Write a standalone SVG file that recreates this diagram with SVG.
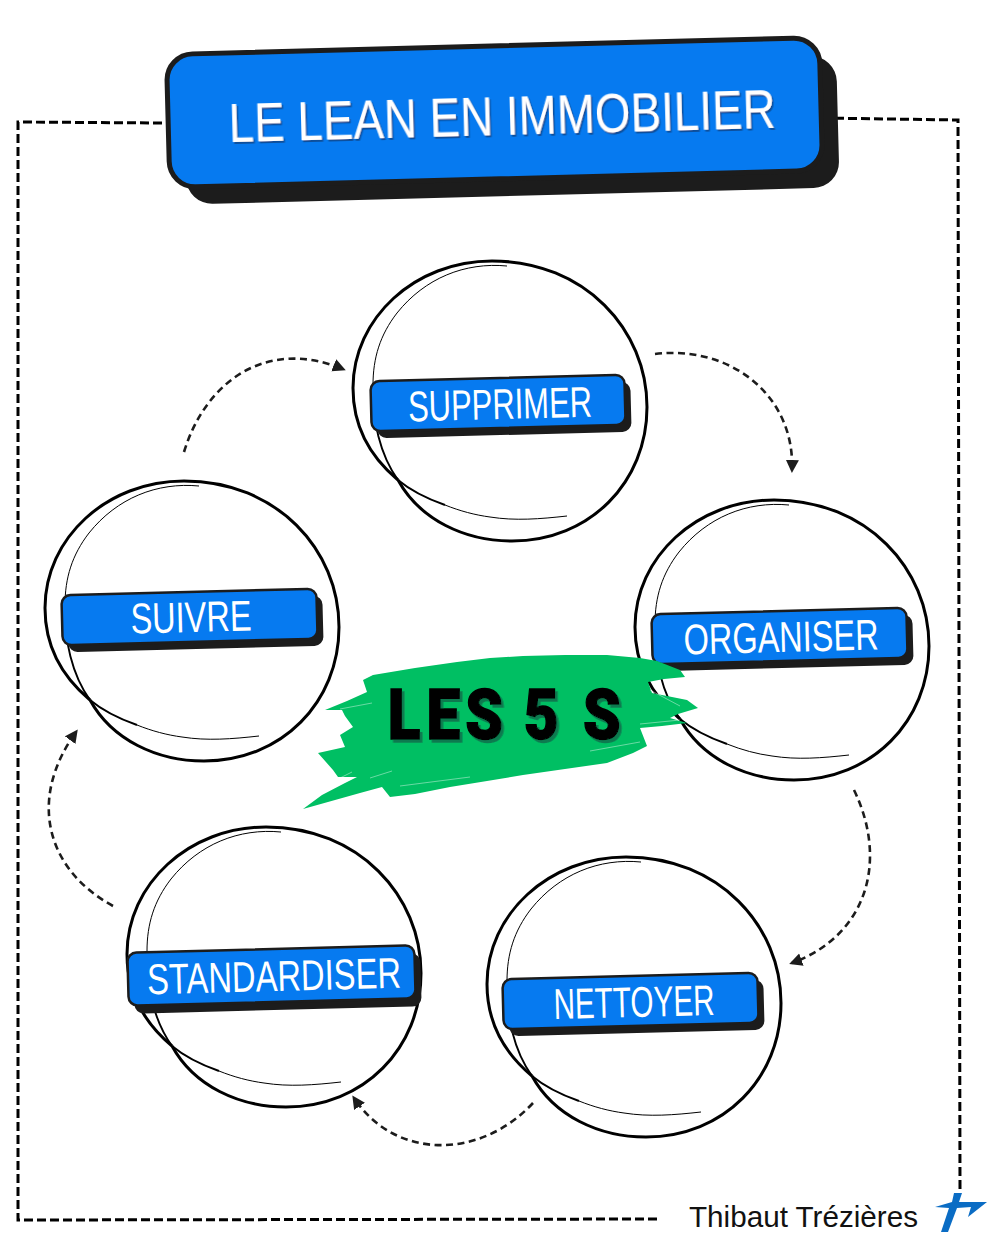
<svg xmlns="http://www.w3.org/2000/svg" xmlns:xlink="http://www.w3.org/1999/xlink" width="1000" height="1240" viewBox="0 0 1000 1240">
<style>
.ring{fill:none;stroke:#000;stroke-width:3}
.mid{fill:none;stroke:#000;stroke-width:1.9}
.thin{fill:none;stroke:#000;stroke-width:1}
.dash{fill:none;stroke:#000;stroke-width:3;stroke-dasharray:9 4}
.arc{fill:none;stroke:#1c1c1c;stroke-width:2.6;stroke-dasharray:7 4.5;marker-end:url(#ah)}
.shadow{fill:#1c1c1c}
.plate{fill:#067af0;stroke:#1c1c1c;stroke-width:2.5}
.hand{font-family:"Liberation Sans Narrow","Liberation Sans",sans-serif;fill:#fff;text-anchor:middle}
.streak{fill:none;stroke:#fff;stroke-width:.6;stroke-opacity:.7}
</style>
<defs>
<filter id="ts1" x="-5%" y="-20%" width="110%" height="140%"><feDropShadow dx="1.5" dy="2" stdDeviation="0" flood-color="#0b4f9c"/></filter>
<filter id="ts2" x="-5%" y="-20%" width="110%" height="140%"><feDropShadow dx="3" dy="3" stdDeviation="0" flood-color="#0a7a50"/></filter>
<marker id="ah" markerWidth="14" markerHeight="14" refX="10" refY="6.5" orient="auto" markerUnits="userSpaceOnUse"><path d="M0 0L13 6.5L0 13Z" fill="#1c1c1c"/></marker>
<g id="ringshape">
<path class="ring" d="M398 480C420 520 465 541 512 541C590 541 647 482 647 407C647 330 585 261 492 261C415 261 353 318 353 388C353 425 368 455 398 480"/>
<path class="mid" d="M373 385C372 420 380 455 398 480"/>
<path class="thin" d="M507 266C465 262 425 278 397 313C380 335 373 358 373 385"/>
<path class="mid" d="M398 480C410 490 425 498 445 505"/>
<path class="thin" d="M445 505C460 511 475 515 490 517C515 521 540 519 567 516"/>
</g>
</defs>
<g id="connectors">
<path class="dash" d="M162 123L18 122L18 1220L660 1219"/>
<path class="dash" d="M822 118L958 120L960 1190"/>
<path class="arc" d="M655 354C730 345 795 395 792 470"/>
<path class="arc" d="M854 790C888 860 868 935 792 963"/>
<path class="arc" d="M533 1103C480 1160 395 1160 354 1098"/>
<path class="arc" d="M113 906C47 870 27 800 76 732"/>
<path class="arc" d="M184 452C205 383 265 337 343 369"/>
</g>
<g id="node-title">
<rect class="shadow" x="185" y="64" width="653" height="132" rx="26" transform="rotate(-1.5 511 130)"/>
<rect x="168" y="46" width="653" height="133" rx="26" fill="#067af0" stroke="#1c1c1c" stroke-width="5" transform="rotate(-1.5 494 112)"/>
<text x="502" y="135" class="hand" font-size="56" textLength="547" lengthAdjust="spacingAndGlyphs" transform="rotate(-1.5 502 115)" filter="url(#ts1)">LE LEAN EN IMMOBILIER</text>
</g>
<g id="node-supprimer">
<use xlink:href="#ringshape" href="#ringshape"/>
<rect class="shadow" x="377" y="385" width="254" height="50" rx="9" transform="rotate(-1.5 504 410)"/>
<rect class="plate" x="371" y="378" width="254" height="50" rx="9" transform="rotate(-1.5 498 403)"/>
<text x="500" y="419" class="hand" font-size="43" textLength="184" lengthAdjust="spacingAndGlyphs" transform="rotate(-1.5 500 404)">SUPPRIMER</text>
</g>
<g id="node-organiser">
<use xlink:href="#ringshape" href="#ringshape" x="282" y="239"/>
<rect class="shadow" x="658" y="618" width="255" height="50" rx="9" transform="rotate(-1.5 785 643)"/>
<rect class="plate" x="652" y="611" width="255" height="50" rx="9" transform="rotate(-1.5 779 636)"/>
<text x="781" y="652" class="hand" font-size="43" textLength="195" lengthAdjust="spacingAndGlyphs" transform="rotate(-1.5 781 637)">ORGANISER</text>
</g>
<g id="node-nettoyer">
<use xlink:href="#ringshape" href="#ringshape" x="134" y="596"/>
<rect class="shadow" x="509" y="983" width="255" height="50" rx="9" transform="rotate(-1.5 636 1008)"/>
<rect class="plate" x="503" y="976" width="255" height="50" rx="9" transform="rotate(-1.5 630 1001)"/>
<text x="634" y="1017" class="hand" font-size="43" textLength="161" lengthAdjust="spacingAndGlyphs" transform="rotate(-1.5 634 1002)">NETTOYER</text>
</g>
<g id="node-standardiser">
<use xlink:href="#ringshape" href="#ringshape" x="-226" y="566"/>
<rect class="shadow" x="134" y="957" width="287" height="53" rx="9" transform="rotate(-1.5 277 983)"/>
<rect class="plate" x="128" y="949" width="287" height="53" rx="9" transform="rotate(-1.5 271 976)"/>
<text x="274" y="991" class="hand" font-size="43" textLength="254" lengthAdjust="spacingAndGlyphs" transform="rotate(-1.5 274 976)">STANDARDISER</text>
</g>
<g id="node-suivre">
<use xlink:href="#ringshape" href="#ringshape" x="-308" y="220"/>
<rect class="shadow" x="68" y="599" width="255" height="50" rx="9" transform="rotate(-1.5 195 624)"/>
<rect class="plate" x="62" y="592" width="255" height="50" rx="9" transform="rotate(-1.5 189 617)"/>
<text x="191" y="632" class="hand" font-size="43" textLength="121" lengthAdjust="spacingAndGlyphs" transform="rotate(-1.5 191 617)">SUIVRE</text>
</g>
<g id="node-center">
<path fill="#00bf63" d="M303 809L322 795L345 783L357 777L338 777L333 770L318 753L345 747L340 735L353 727L345 716L342 710L325 710L347 701L367 692L363 680L373 675L415 668L457 662L490 658L523 656L565 655L607 655L640 658L657 661L680 670L685 677L664 679L648 682L652 693L687 700L698 708L678 714L670 718L687 723L662 726L640 728L647 746L633 753L607 763L565 769L523 775L487 781L450 787L415 794L390 797L382 787L360 793Z"/>
<path class="streak" d="M322 787L352 772M340 709L372 703M370 778L392 771M650 690L680 706M640 724L680 720M590 751L640 742M400 786L470 777"/>
<text y="739" font-family="Roboto,'Liberation Sans',sans-serif" font-weight="900" font-size="70" stroke="#000" stroke-width="1.4" transform="scale(.86 1)" filter="url(#ts2)" fill="#000"><tspan x="451">L</tspan><tspan x="496">E</tspan><tspan x="541">S</tspan><tspan x="609">5</tspan><tspan x="678">S</tspan></text>
</g>
<g id="signature">
<text x="689" y="1227" font-family="'Liberation Sans Narrow','Liberation Sans',sans-serif" font-size="30" textLength="229" lengthAdjust="spacingAndGlyphs" fill="#111">Thibaut Trézières</text>
<path fill="#0a6cc4" d="M935 1207L952 1202L954 1193L962 1193L959 1202L987 1202L968 1217L971 1207L957 1208L948 1232L941 1232L949 1208Z"/>
</g>
</svg>
